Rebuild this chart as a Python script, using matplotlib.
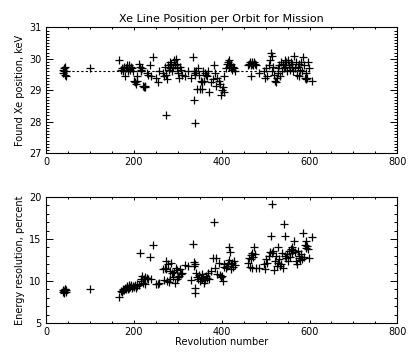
import matplotlib
matplotlib.use("Agg")
import matplotlib.pyplot as plt
from matplotlib.ticker import MultipleLocator

# revolution number, found Xe line position (keV), energy resolution (percent)
rev = [38, 39, 40, 41, 42, 43, 44, 45, 100,
       167, 170, 172, 174, 176, 178, 180, 181, 183, 185, 186, 188, 189, 191, 193, 195, 197,
       200, 202, 204, 206, 208, 211, 213, 215, 217, 219, 220, 222, 224, 226, 229,
       232, 237, 238, 243, 250, 254, 258,
       266, 268, 270, 272, 274, 276, 278, 279, 281, 283, 285, 287, 289, 291, 293, 295, 297, 299, 301, 303, 305, 307, 309,
       316, 324, 330, 334, 336, 337, 338, 339, 340, 342,
       344, 346, 348, 350, 352, 354, 356, 358, 360, 362, 364, 366, 368,
       372, 376, 380, 382, 384, 387, 390, 393, 396, 398, 400, 402, 404, 406,
       410, 412, 414, 416, 417, 418, 420, 421, 423, 425, 427, 430,
       460, 462, 464, 466, 467, 469, 470, 472, 474, 476, 478, 485,
       497, 499, 501, 504, 507, 510, 512, 514, 515, 517, 519, 521, 523, 525, 527, 529,
       531, 533, 535, 537, 539, 541, 543, 545, 547, 549, 551, 553, 555, 557, 559,
       561, 563, 565, 567, 569, 571, 573, 575, 577, 579, 581, 583, 585, 587, 589, 591, 593, 595, 597, 598, 605]

xe_pos = [29.65, 29.55, 29.6, 29.7, 29.5, 29.75, 29.6, 29.45, 29.7,
          29.98, 29.65, 29.7, 29.6, 29.65, 29.75, 29.45, 29.7, 29.8, 29.75, 29.6, 29.7, 29.8, 29.65, 29.75, 29.7, 29.6,
          29.3, 29.25, 29.2, 29.3, 29.45, 29.85, 29.75, 29.65, 29.6, 29.7, 29.15, 29.1, 29.15, 29.1, 29.55,
          29.5, 29.8, 29.45, 30.05, 29.4, 29.25, 29.6,
          29.55, 29.45, 29.75, 29.5, 28.2, 29.35, 29.8, 29.65, 29.9, 29.7, 29.85, 29.6, 29.75, 29.95, 29.8, 30.0, 29.7, 29.85, 29.55, 29.4, 29.75, 29.65, 29.5,
          29.45, 29.6, 29.4, 30.05, 29.6, 28.7, 27.95, 29.5, 29.55, 29.6,
          29.05, 29.7, 29.5, 29.05, 29.3, 29.25, 29.05, 29.6, 29.3, 29.55, 29.5, 29.45, 29.6,
          28.95, 29.25, 29.35, 29.8, 29.55, 29.15, 29.4, 29.3, 29.2, 28.85, 29.0, 29.1, 28.95, 29.45,
          29.7, 29.85, 29.9, 29.75, 29.95, 29.8, 29.85, 29.7, 29.65, 29.75, 29.7, 29.6,
          29.8, 29.85, 29.9, 29.45, 29.8, 29.9, 29.85, 29.8, 29.9, 29.85, 29.8, 29.55,
          29.6, 29.4, 29.7, 29.45, 29.8, 29.95, 30.2, 30.1, 29.6, 29.75, 29.5, 29.3, 29.25, 29.4, 29.55, 29.7,
          29.8, 29.45, 29.9, 29.6, 29.85, 29.7, 29.95, 29.75, 29.9, 29.6, 29.95, 29.8, 29.65, 29.9, 29.75,
          29.85, 29.6, 30.1, 29.7, 29.9, 29.5, 29.75, 29.45, 29.85, 29.65, 29.9, 29.6, 30.05, 29.8, 29.4, 29.35, 29.55, 29.4, 29.9, 29.7, 29.3]

resol = [8.7, 8.9, 8.6, 8.8, 9.0, 9.1, 8.7, 8.9, 9.0,
         8.1, 8.8, 8.7, 8.9, 9.0, 8.9, 9.2, 9.1, 9.4, 9.3, 9.0, 9.5, 9.2, 9.3, 9.5, 9.2, 9.4,
         9.3, 9.5, 9.2, 9.4, 9.6, 9.5, 13.4, 10.0, 10.3, 10.6, 9.8, 10.2, 10.5, 9.7, 10.4,
         10.3, 12.9, 10.2, 14.3, 9.7, 9.6, 9.8,
         11.4, 10.1, 11.5, 12.4, 11.4, 10.0, 12.0, 9.9, 11.2, 10.2, 12.2, 11.0, 10.5, 11.1, 9.8, 11.6, 10.2, 11.3, 10.5, 10.6, 11.4, 10.8, 11.0,
         11.9, 11.8, 10.1, 14.4, 11.8, 12.3, 8.6, 9.2, 12.0, 11.0,
         10.5, 10.2, 10.7, 10.0, 10.4, 10.8, 10.3, 10.5, 9.8, 10.1, 10.6, 10.4, 11.0,
         10.2, 11.2, 12.8, 17.0, 11.6, 12.8, 10.8, 12.1, 10.7, 10.5, 10.6, 10.0, 11.7, 12.0,
         11.5, 11.8, 12.2, 12.5, 14.0, 13.5, 12.0, 11.4, 12.2, 11.7, 12.4, 11.9,
         12.2, 12.8, 11.7, 13.1, 12.6, 11.5, 13.4, 12.9, 14.0, 13.2, 11.6, 11.5,
         12.0, 11.4, 12.6, 12.2, 13.0, 13.5, 15.4, 13.3, 19.2, 13.6, 11.3, 12.4, 13.0, 11.8, 12.2, 14.0,
         12.6, 11.8, 12.0, 13.4, 11.6, 16.8, 13.0, 15.4, 12.8, 13.2, 12.4, 13.6, 12.9, 13.8, 13.3,
         14.0, 13.7, 14.8, 13.5, 12.4, 12.0, 13.6, 12.8, 13.0, 12.5, 13.2, 12.6, 15.7, 12.9, 14.3, 14.8, 13.9, 14.2, 13.8, 12.8, 15.2]

mean_pos = 29.6

plt.rcParams['font.family'] = 'DejaVu Sans'
plt.rcParams['font.size'] = 7

fig = plt.figure(figsize=(4.2, 3.57), dpi=100)
ax1 = fig.add_axes([0.11, 0.571, 0.836, 0.352])
ax2 = fig.add_axes([0.11, 0.095, 0.836, 0.353])

mk = dict(ls='none', marker='+', ms=6, mew=0.9, color='black')

ax1.plot(rev, xe_pos, **mk)
ax1.plot([min(rev), max(rev)], [mean_pos, mean_pos], color='black', lw=0.8, ls=(0, (2, 2)))
ax1.set_xlim(0, 800)
ax1.set_ylim(27, 31)
ax1.yaxis.set_major_locator(MultipleLocator(1))
ax1.yaxis.set_minor_locator(MultipleLocator(0.1))
ax1.set_ylabel('Found Xe position, keV')
ax1.set_title('Xe Line Position per Orbit for Mission', fontsize=8, pad=4)

ax2.plot(rev, resol, **mk)
ax2.set_xlim(0, 800)
ax2.set_ylim(5, 20)
ax2.yaxis.set_major_locator(MultipleLocator(5))
ax2.yaxis.set_minor_locator(MultipleLocator(1))
ax2.set_ylabel('Energy resolution, percent')
ax2.set_xlabel('Revolution number', labelpad=0)

for ax in (ax1, ax2):
    ax.xaxis.set_major_locator(MultipleLocator(200))
    ax.xaxis.set_minor_locator(MultipleLocator(50))
    for s in ax.spines.values():
        s.set_linewidth(0.8)
    ax.tick_params(which='both', direction='in', top=True, right=True, width=0.7)
    ax.tick_params(axis='x', which='major', length=2.5, pad=3)
    ax.tick_params(axis='x', which='minor', length=1.3)
    ax.tick_params(axis='y', which='major', length=5)
    ax.tick_params(axis='y', which='minor', length=2.5)
    ax.yaxis.labelpad = 3

fig.savefig('out.png', dpi=100)
